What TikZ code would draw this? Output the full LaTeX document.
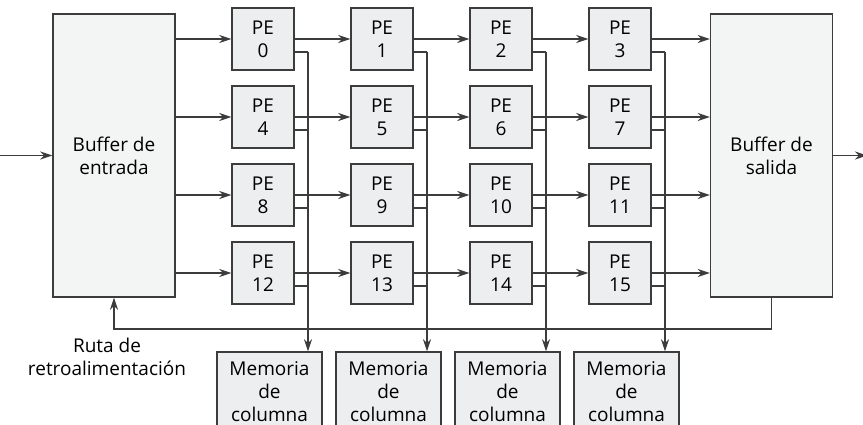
\documentclass[tikz,border=0pt]{standalone}
\usepackage{fontspec}
\setmainfont{Open Sans}
\usetikzlibrary{arrows.meta,positioning,calc}
\definecolor{line}{HTML}{3C3C3C}
\definecolor{pegray}{HTML}{EDEEEF}
\definecolor{bufgray}{HTML}{F3F4F4}

\begin{document}
\begin{tikzpicture}[x=0.5pt,y=-0.5pt,
  txt/.style={align=center,font=\fontsize{9.5}{11.5}\selectfont},
  pe/.style={txt,draw=line,line width=0.7pt,fill=pegray,minimum width=31pt,minimum height=31pt,inner sep=0pt},
  buf/.style={txt,draw=line,line width=0.7pt,fill=bufgray,minimum width=61pt,minimum height=141.5pt},
  mem/.style={txt,draw=line,line width=0.7pt,fill=pegray,minimum width=52.5pt,minimum height=40pt,inner sep=0pt},
  wire/.style={draw=line,line width=0.8pt},
  arr/.style={wire,-{Stealth[length=6pt,width=4pt]}}]
\useasboundingbox (0,0) rectangle (863,424);
% buffers
\node[buf] (inbuf) at (114,155.5) {Buffer de\\entrada};
\node[buf] (outbuf) at (771.5,155.5) {Buffer de\\salida};
% 4x4 array of PEs
\foreach \r in {0,...,3}
  \foreach \c in {0,...,3}{
    \pgfmathtruncatemacro\n{4*\r+\c}
    \node[pe] (pe\n) at (263+119*\c,39+78*\r) {PE\\\n};
  }
% column memories
\foreach \c in {0,...,3}{
  \node[mem] (mem\c) at (269.5+119*\c,392) {Memoria\\de\\columna};
  \coordinate (bus\c) at (308+119*\c,52);
}
% row links
\foreach \r in {0,...,3}{
  \pgfmathtruncatemacro\a{4*\r}
  \pgfmathtruncatemacro\b{4*\r+1}
  \pgfmathtruncatemacro\cc{4*\r+2}
  \pgfmathtruncatemacro\d{4*\r+3}
  \draw[arr] (pe\a.west -| inbuf.east) -- (pe\a.west);
  \draw[arr] (pe\a) -- (pe\b);
  \draw[arr] (pe\b) -- (pe\cc);
  \draw[arr] (pe\cc) -- (pe\d);
  \draw[arr] (pe\d.east) -- (pe\d.east -| outbuf.west);
}
% column buses to memories
\foreach \c in {0,...,3}{
  \draw[wire] ([yshift=-6.5pt]pe\c.east) -- (bus\c);
  \draw[arr] (bus\c) -- (bus\c |- mem\c.north);
  \foreach \r in {1,2,3}{
    \pgfmathtruncatemacro\n{4*\r+\c}
    \draw[wire] ([yshift=-6.5pt]pe\n.east) -- +(14,0);
  }
}
% feedback and i/o
\draw[arr] (outbuf.south) -- ++(0,31) -| (inbuf.south);
\node[txt] (fblabel) at (107,357) {Ruta de\\retroalimentación};
\coordinate (src) at (0,155.5);
\coordinate (sink) at (867,155.5);
\draw[arr] (src) -- (inbuf.west);
\draw[arr] (outbuf.east) -- (sink);
\end{tikzpicture}
\end{document}
